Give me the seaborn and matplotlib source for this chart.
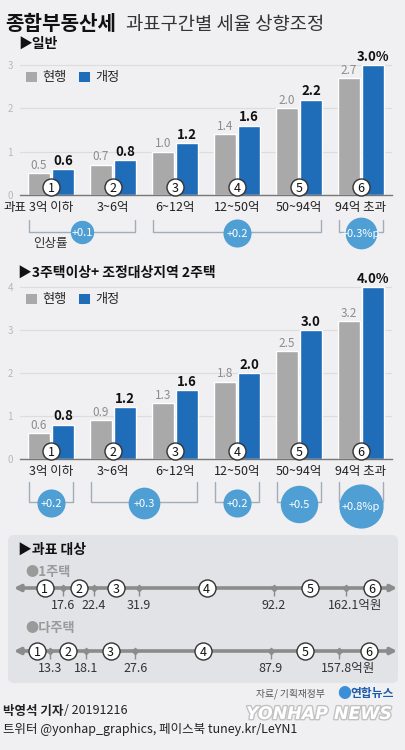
import numpy as np
import pandas as pd
import seaborn as sns
import matplotlib.pyplot as plt
import matplotlib.patheffects as pe
from matplotlib.patches import Patch, FancyBboxPatch

# ---- data ----
brackets = ['3억 이하', '3~6억', '6~12억', '12~50억', '50~94억', '94억 초과']
rate_now_general = [0.5, 0.7, 1.0, 1.4, 2.0, 2.7]
rate_new_general = [0.6, 0.8, 1.2, 1.6, 2.2, 3.0]
rate_now_multi = [0.6, 0.9, 1.3, 1.8, 2.5, 3.2]
rate_new_multi = [0.8, 1.2, 1.6, 2.0, 3.0, 4.0]

# 인상률 (bracket groups -> increase, %p)
hike_groups_general = [(0, 1), (2, 4), (5, 5)]
hike_general = [0.1, 0.2, 0.3]
hike_groups_multi = [(0, 0), (1, 2), (3, 3), (4, 4), (5, 5)]
hike_multi = [0.2, 0.3, 0.2, 0.5, 0.8]

# 과표 대상 (억원)
cutoffs_single = [17.6, 22.4, 31.9, 92.2, 162.1]
cutoffs_multi = [13.3, 18.1, 27.6, 87.9, 157.8]

# ---- style ----
W, H = 406, 750
BG = '#f0f0f2'
GRAY = '#a9a9a9'
BLUE = '#1f6cb8'
BUBBLE = '#4f9fd5'
LINE = '#8c8c8c'

sns.set_theme(style='white')
plt.rcParams['font.family'] = ['Noto Sans CJK KR', 'DejaVu Sans']
plt.rcParams['axes.unicode_minus'] = False

fig = plt.figure(figsize=(W / 100, H / 100), dpi=100, facecolor=BG)


def add_axes_px(left, top, right, bottom):
    return fig.add_axes([left / W, 1 - bottom / H, (right - left) / W, (bottom - top) / H])


def fig_text(x, y, s, **kw):
    kw.setdefault('va', 'center')
    return fig.text(x / W, 1 - y / H, s, **kw)


def circled(ax, xs, ys):
    ax.scatter(xs, ys, s=150, facecolor='white', edgecolor='#333333', linewidth=1,
               zorder=5, clip_on=False)
    for i, (x, y) in enumerate(zip(xs, ys)):
        ax.text(x, y, str(i + 1), ha='center', va='center_baseline', fontsize=9,
                color='#111111', zorder=6)


def bar_panel(ax, now, new, ymax, groups, hikes, br_top, br_bot):
    df = pd.DataFrame({'구간': brackets * 2,
                       '세율': now + new,
                       '구분': ['현행'] * len(now) + ['개정'] * len(new)})
    sns.barplot(data=df, x='구간', y='세율', hue='구분',
                palette={'현행': GRAY, '개정': BLUE}, width=0.78, gap=0.08,
                saturation=1, legend=False, ax=ax, zorder=2)
    ax.set_xlim(-0.5, len(brackets) - 0.5)
    ax.set_ylim(0, ymax)
    ax.set_yticks(range(int(ymax) + 1))
    ax.set_xlabel('')
    ax.set_ylabel('')
    ax.set_facecolor('none')
    ax.set_axisbelow(True)
    ax.yaxis.grid(True, color='#dcdcdc', lw=0.8)
    for s in ['top', 'right', 'left']:
        ax.spines[s].set_visible(False)
    ax.spines['bottom'].set_color('#777777')
    ax.spines['bottom'].set_linewidth(1)
    ax.tick_params(axis='y', length=0, pad=5, labelsize=7, labelcolor='#b8b8b8')
    ax.tick_params(axis='x', length=0, pad=4, labelsize=9, labelcolor='#222222')

    now_labels = [f'{v:.1f}' for v in now]
    new_labels = [f'{v:.1f}' for v in new]
    new_labels[-1] += '%'
    ax.bar_label(ax.containers[0], labels=now_labels, padding=1, fontsize=8.5,
                 color='#8c8c8c')
    ax.bar_label(ax.containers[1], labels=new_labels, padding=1, fontsize=9.5,
                 fontweight='bold', color='#111111')

    ppu = ax.transData.transform((0, 1))[1] - ax.transData.transform((0, 0))[1]
    idx = np.arange(len(brackets))
    circled(ax, idx, np.full(len(idx), 8.5 / ppu))

    y_top, y_bot = -br_top / ppu, -br_bot / ppu
    for k, ((a, b), rate) in enumerate(zip(groups, hikes)):
        x0, x1 = a - 0.36, b + 0.36
        ax.plot([x0, x0, x1, x1], [y_top, y_bot, y_bot, y_top], color='#a3adb8',
                lw=1, clip_on=False, zorder=1)
        r = 6 + 18 * np.sqrt(rate)
        yc = y_bot - 0.35 * (r - 12) / ppu
        xc = (a + b) / 2
        ax.scatter([xc], [yc], s=(2 * r * 0.72) ** 2, color=BUBBLE, linewidth=0,
                   clip_on=False, zorder=3)
        label = f'+{rate:.1f}' + ('%p' if k == len(hikes) - 1 else '')
        ax.text(xc, yc, label, color='white', fontsize=8, ha='center',
                va='center_baseline', zorder=4)
    return ppu


def legend_at(y):
    handles = [Patch(facecolor=GRAY, edgecolor='none', label='현행'),
               Patch(facecolor=BLUE, edgecolor='none', label='개정')]
    fig.legend(handles=handles, loc='center left', bbox_to_anchor=(26 / W, 1 - y / H),
               bbox_transform=fig.transFigure, ncol=2, frameon=False, fontsize=9.5,
               handlelength=0.85, handleheight=0.85, handletextpad=0.35,
               columnspacing=1.0, borderpad=0, borderaxespad=0)


# ---- title ----
fig_text(5, 30, '종합부동산세', fontsize=14.5, fontweight='bold', color='#111111', va='baseline')
fig_text(126, 30, '과표구간별 세율 상향조정', fontsize=13.5, color='#333333', va='baseline')

# ---- chart 1: 일반 ----
fig_text(18, 44, '▶일반', fontsize=10, fontweight='bold', color='#111111')
ax1 = add_axes_px(20, 54.3, 392, 195)
ppu1 = bar_panel(ax1, rate_now_general, rate_new_general, 3.25,
                 hike_groups_general, hike_general, 25, 37)
ax1.text(-0.4, -4 * 100 / 72 / ppu1, '과표', ha='right', va='top', fontsize=9,
         color='#222222')
legend_at(78)
fig_text(50, 243, '인상률', fontsize=9, color='#333333', ha='center')

# ---- chart 2: 3주택이상 + 조정대상지역 2주택 ----
fig_text(18, 273, '▶3주택이상+ 조정대상지역 2주택', fontsize=10, fontweight='bold',
         color='#111111')
ax2 = add_axes_px(20, 274, 392, 459)
bar_panel(ax2, rate_now_multi, rate_new_multi, 4.3,
          hike_groups_multi, hike_multi, 23, 43)
legend_at(300)

# ---- 과표 대상 panel ----
panel = FancyBboxPatch((8 / W, 1 - 683 / H), 390 / W, 148 / H,
                       boxstyle='round,pad=0,rounding_size=0.015',
                       mutation_aspect=W / H, transform=fig.transFigure,
                       facecolor='#e2e3e7', edgecolor='none', zorder=0)
fig.add_artist(panel)
fig_text(18, 550, '▶과표 대상', fontsize=10, fontweight='bold', color='#111111')
fig_text(25, 572, '●1주택', fontsize=9.5, fontweight='bold', color='#9a9a9a')
fig_text(25, 628, '●다주택', fontsize=9.5, fontweight='bold', color='#9a9a9a')


def number_line(line_y, cutoffs, xlim):
    ax = add_axes_px(8, line_y - 15, 398, line_y + 15)
    ax.set_xscale('log')
    ax.set_xlim(xlim)
    ax.set_ylim(-1, 1)
    ax.axis('off')
    ax.annotate('', xy=(0.998, 0.5), xytext=(0.015, 0.5), xycoords='axes fraction',
                arrowprops=dict(arrowstyle='<|-|>', color=LINE, lw=2.6,
                                mutation_scale=9, shrinkA=0, shrinkB=0))
    ax.vlines(cutoffs, -0.5, 0, color=LINE, lw=1)
    ax.scatter(cutoffs, np.zeros(len(cutoffs)), marker='D', s=10, color=LINE, zorder=3)
    bounds = np.array([xlim[0] * 1.15] + cutoffs + [xlim[1]])
    mids = np.sqrt(bounds[:-1] * bounds[1:])
    circled(ax, mids, np.zeros(len(mids)))
    for v in cutoffs[:-1]:
        ax.annotate(f'{v:.1f}', xy=(v, 0), xytext=(0, -8), textcoords='offset points',
                    ha='center', va='top', fontsize=9, color='#333333')
    ax.annotate(f'{cutoffs[-1]:.1f}억원', xy=(cutoffs[-1], 0), xytext=(-13, -8),
                textcoords='offset points', ha='left', va='top', fontsize=9,
                color='#333333')


number_line(588, cutoffs_single, (11.4, 244))
number_line(651, cutoffs_multi, (9.3, 261))

# ---- footer ----
fig_text(256, 694, '자료/ 기획재정부', fontsize=7, color='#555555')
fig_text(337, 694, '●', fontsize=10, color='#3a8fd8')
fig_text(350, 694, '연합뉴스', fontsize=8.5, fontweight='bold', color='#1c5cab')
fig_text(392, 714, 'YONHAP NEWS', ha='right', fontsize=12.5, fontweight='bold',
         style='italic', family='DejaVu Sans', color='white',
         path_effects=[pe.withStroke(linewidth=2, foreground='#c2c2c2')])
fig_text(3, 711, '박영석 기자', fontsize=9, fontweight='bold', color='#222222')
fig_text(64, 711, '/ 20191216', fontsize=9, color='#222222')
fig_text(3, 729, '트위터 @yonhap_graphics, 페이스북 tuney.kr/LeYN1', fontsize=9,
         color='#222222')

fig.savefig('out.png', dpi=100, facecolor=BG)
